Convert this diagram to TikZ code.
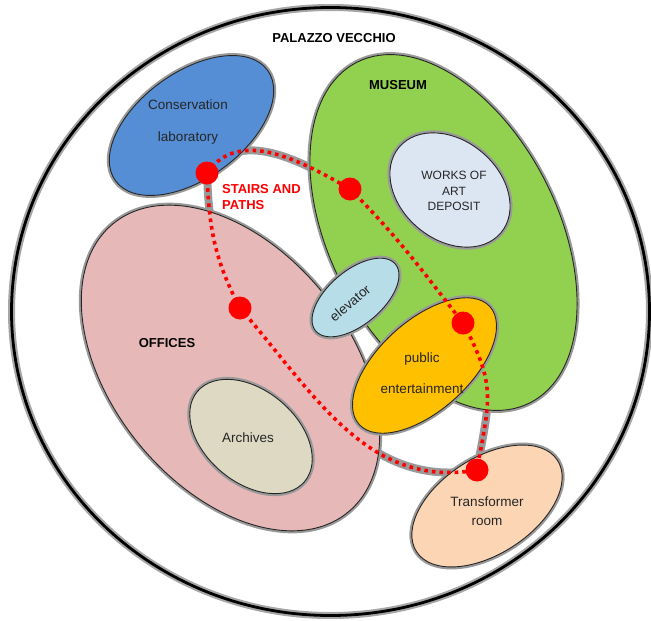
\documentclass[tikz,border=0pt]{standalone}
\usepackage{fontspec}
\setmainfont{Liberation Sans}
\usetikzlibrary{shapes.geometric}
\definecolor{labblue}{HTML}{558ED5}
\definecolor{musgreen}{HTML}{92D050}
\definecolor{worksblue}{HTML}{DCE6F2}
\definecolor{offpink}{HTML}{E6B9B8}
\definecolor{archgrey}{HTML}{DDD9C3}
\definecolor{elevblue}{HTML}{B7DEE8}
\definecolor{puborange}{HTML}{FFC000}
\definecolor{transpeach}{HTML}{FCD5B5}
\begin{document}
\begin{tikzpicture}[x=1pt,y=1pt,
  room/.style={ellipse, draw=black!85, line width=0.9pt, inner sep=0pt,
    preaction={draw=black!40, line width=5pt}},
  lbl/.style={font=\fontsize{13.5}{16}\selectfont, text=black!85, inner sep=0pt},
  boldlbl/.style={font=\bfseries\fontsize{13}{16}\selectfont, text=black, inner sep=0pt},
  stairshadow/.style={draw=black!40, line width=8pt},
  stair/.style={draw=red, line width=3.6pt, dash pattern=on 3.6pt off 4pt},
  dot/.style={circle, fill=red, minimum size=23pt, inner sep=0pt}]
\useasboundingbox (0,0) rectangle (651,-621);
% outer building
\node[ellipse, draw=black, line width=2.8pt, inner sep=0pt,
  preaction={draw=black!35, line width=7pt},
  minimum width=638pt, minimum height=608pt] (palazzo) at (330.5,-311.5) {};
% stair junctions
\coordinate (p1) at (207,-173);
\coordinate (p2) at (350,-189);
\coordinate (p3) at (240,-308);
\coordinate (p4) at (463,-323);
\coordinate (p5) at (477,-470);
% shadows of stairs and paths
\draw[stairshadow] (p1) to[out=55,in=150] (p2);
\draw[stairshadow] (p2) to[out=-45,in=128] (p4);
\draw[stairshadow] (p4) to[out=-62,in=80,looseness=1.25] (p5);
\draw[stairshadow] (p1) to[out=-88,in=118] (p3);
\draw[stairshadow] (p3) to[out=-49,in=190] (p5);
% rooms
\node[room, fill=labblue, minimum width=188pt, minimum height=106pt, rotate=36] (lab) at (191.5,-125.5) {};
\node[room, fill=musgreen, minimum width=382pt, minimum height=228pt, rotate=-63] (museum) at (443.5,-232.5) {};
\node[room, fill=worksblue, minimum width=133pt, minimum height=99pt, rotate=-40] (works) at (450,-190) {};
\node[room, fill=offpink, minimum width=372pt, minimum height=238pt, rotate=-51] (offices) at (230.5,-368) {};
\node[room, fill=archgrey, minimum width=140pt, minimum height=92pt, rotate=-40] (archives) at (251,-436.5) {};
\node[room, fill=elevblue, minimum width=104pt, minimum height=54pt, rotate=40] (elevator) at (355.5,-297.5) {};
\node[room, fill=puborange, minimum width=176pt, minimum height=90pt, rotate=42] (public) at (424.5,-365.5) {};
\node[room, fill=transpeach, minimum width=168pt, minimum height=96pt, rotate=33] (transformer) at (487,-506) {};
% labels
\node[boldlbl] (title) at (334,-38) {PALAZZO VECCHIO};
\node[boldlbl] (museumlbl) at (398,-85) {MUSEUM};
\node[boldlbl] (officeslbl) at (167,-343) {OFFICES};
\node[lbl, align=center, font=\fontsize{13.5}{32}\selectfont] (lablbl) at (188,-122) {Conservation\\laboratory};
\node[lbl, align=center, font=\fontsize{12}{15.5}\selectfont] (workslbl) at (454,-191) {WORKS OF\\ART\\DEPOSIT};
\node[lbl, align=center, font=\fontsize{13.5}{31}\selectfont] (publbl) at (422,-373.5) {public\\entertainment};
\node[lbl] (archlbl) at (248,-438) {Archives};
\node[lbl, rotate=40] (elevlbl) at (350,-303) {elevator};
\node[lbl, align=center, font=\fontsize{13.5}{19}\selectfont] (translbl) at (487,-511.5) {Transformer\\room};
\node[boldlbl, text=red, align=left, anchor=west] (stairslbl) at (222,-197.5) {STAIRS AND\\PATHS};
% stairs and paths
\draw[stair] (p1) to[out=55,in=150] (p2);
\draw[stair] (p2) to[out=-45,in=128] (p4);
\draw[stair] (p4) to[out=-62,in=80,looseness=1.25] (p5);
\draw[stair] (p1) to[out=-88,in=118] (p3);
\draw[stair] (p3) to[out=-49,in=190] (p5);
\node[dot] (d1) at (p1) {};
\node[dot] (d2) at (p2) {};
\node[dot] (d3) at (p3) {};
\node[dot] (d4) at (p4) {};
\node[dot] (d5) at (p5) {};
\end{tikzpicture}
\end{document}
